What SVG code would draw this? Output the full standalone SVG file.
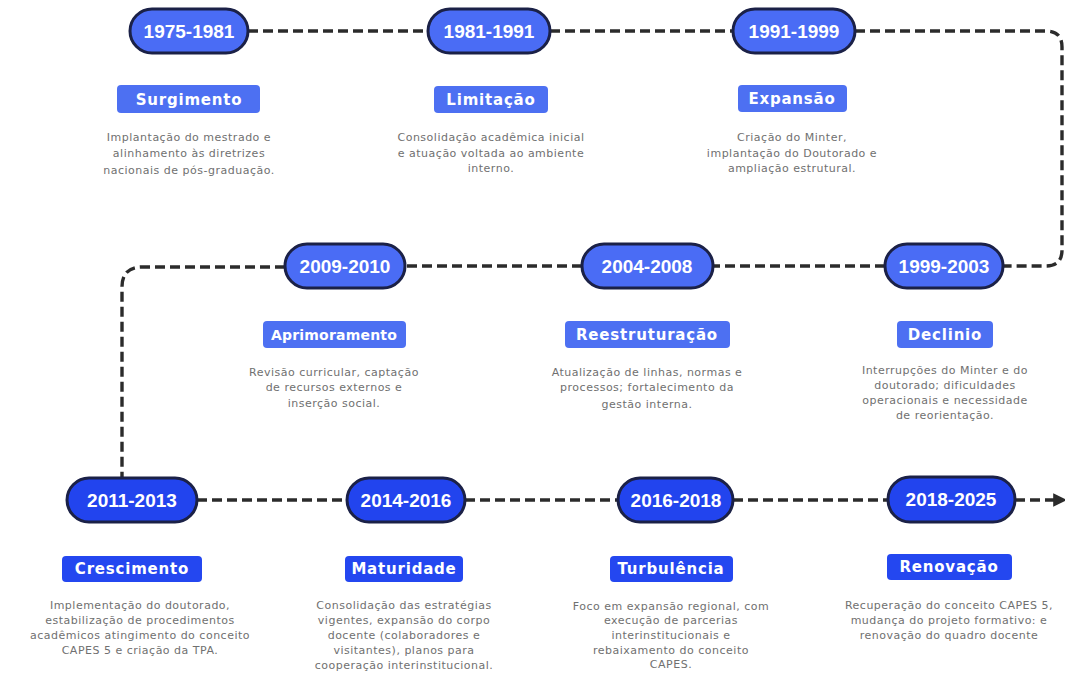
<svg xmlns="http://www.w3.org/2000/svg" width="1065" height="679" viewBox="0 0 1065 679">
<defs>
<style>
.bg{fill:#ffffff}
.conn{fill:none;stroke:#2b2b2b;stroke-width:3.4;stroke-dasharray:10 5}
.pill{fill:#4a6cf5;stroke:#1b2147;stroke-width:3}
.pill3{fill:#2244ee;stroke:#1b2147;stroke-width:3}
.year{font-family:"Liberation Sans",Arial,sans-serif;font-weight:bold;font-size:19px;fill:#ffffff;text-anchor:middle}
.lab{fill:#4d70f2}
.lab3{fill:#2447f0}
.labt{font-family:"DejaVu Sans",sans-serif;font-weight:bold;font-size:15px;letter-spacing:0.8px;fill:#ffffff;text-anchor:middle}
.desc{font-family:"DejaVu Sans",sans-serif;font-size:11px;letter-spacing:0.5px;fill:#707070;text-anchor:middle}
</style>
<marker id="arr" viewBox="0 0 10 10" refX="5" refY="5" markerWidth="4" markerHeight="4" orient="auto">
<path d="M0,0 L10,5 L0,10 z" fill="#2b2b2b"/>
</marker>
</defs>
<rect class="bg" x="0" y="0" width="1065" height="679"/>

<g id="connectors">
<path class="conn" d="M248,31 H428"/>
<path class="conn" d="M550,31 H733"/>
<path class="conn" d="M855,31 H1046 Q1062,31 1062,47 V250 Q1062,266 1046,266 H1003"/>
<path class="conn" d="M885,266 H713"/>
<path class="conn" d="M582,266 H405"/>
<path class="conn" d="M285,267 H142 Q122,267 122,287 V478"/>
<path class="conn" d="M197,500 H347"/>
<path class="conn" d="M465,500 H618"/>
<path class="conn" d="M733,500 H888"/>
<path class="conn" d="M1015,500 H1060" marker-end="url(#arr)"/>
</g>

<g id="n1975">
<rect class="pill" x="130" y="9" width="118" height="44" rx="22"/>
<text class="year" x="189" y="38">1975-1981</text>
<rect class="lab" x="117" y="85" width="143" height="28" rx="4"/>
<text class="labt" x="189" y="105">Surgimento</text>
<text class="desc" x="189" y="141">Implantação do mestrado e</text>
<text class="desc" x="189" y="157">alinhamento às diretrizes</text>
<text class="desc" x="189" y="174">nacionais de pós-graduação.</text>
</g>

<g id="n1981">
<rect class="pill" x="428" y="9" width="122" height="44" rx="22"/>
<text class="year" x="489" y="38">1981-1991</text>
<rect class="lab" x="434" y="86" width="114" height="27" rx="4"/>
<text class="labt" x="491" y="105">Limitação</text>
<text class="desc" x="491" y="141">Consolidação acadêmica inicial</text>
<text class="desc" x="491" y="157">e atuação voltada ao ambiente</text>
<text class="desc" x="491" y="172">interno.</text>
</g>

<g id="n1991">
<rect class="pill" x="733" y="9" width="122" height="44" rx="22"/>
<text class="year" x="794" y="38">1991-1999</text>
<rect class="lab" x="738" y="85" width="109" height="27" rx="4"/>
<text class="labt" x="792" y="104">Expansão</text>
<text class="desc" x="792" y="141">Criação do Minter,</text>
<text class="desc" x="792" y="157">implantação do Doutorado e</text>
<text class="desc" x="792" y="172">ampliação estrutural.</text>
</g>

<g id="n1999">
<rect class="pill" x="885" y="244" width="118" height="44" rx="22"/>
<text class="year" x="944" y="273">1999-2003</text>
<rect class="lab" x="897" y="321" width="96" height="27" rx="4"/>
<text class="labt" x="945" y="340">Declinio</text>
<text class="desc" x="945" y="374">Interrupções do Minter e do</text>
<text class="desc" x="945" y="389">doutorado; dificuldades</text>
<text class="desc" x="945" y="404">operacionais e necessidade</text>
<text class="desc" x="945" y="419">de reorientação.</text>
</g>

<g id="n2004">
<rect class="pill" x="582" y="244" width="131" height="44" rx="22"/>
<text class="year" x="647" y="273">2004-2008</text>
<rect class="lab" x="565" y="321" width="165" height="27" rx="4"/>
<text class="labt" x="647" y="340">Reestruturação</text>
<text class="desc" x="647" y="376">Atualização de linhas, normas e</text>
<text class="desc" x="647" y="391">processos; fortalecimento da</text>
<text class="desc" x="647" y="408">gestão interna.</text>
</g>

<g id="n2009">
<rect class="pill" x="285" y="244" width="120" height="44" rx="22"/>
<text class="year" x="345" y="273">2009-2010</text>
<rect class="lab" x="263" y="321" width="143" height="27" rx="4"/>
<text class="labt" x="334" y="340" style="font-size:14px;letter-spacing:0.2px">Aprimoramento</text>
<text class="desc" x="334" y="376">Revisão curricular, captação</text>
<text class="desc" x="334" y="391">de recursos externos e</text>
<text class="desc" x="334" y="407">inserção social.</text>
</g>

<g id="n2011">
<rect class="pill3" x="67" y="478" width="130" height="44" rx="22"/>
<text class="year" x="132" y="507">2011-2013</text>
<rect class="lab3" x="62" y="556" width="140" height="26" rx="4"/>
<text class="labt" x="132" y="574">Crescimento</text>
<text class="desc" x="140" y="609">Implementação do doutorado,</text>
<text class="desc" x="140" y="624">estabilização de procedimentos</text>
<text class="desc" x="140" y="639">acadêmicos atingimento do conceito</text>
<text class="desc" x="140" y="654">CAPES 5 e criação da TPA.</text>
</g>

<g id="n2014">
<rect class="pill3" x="347" y="478" width="118" height="44" rx="22"/>
<text class="year" x="406" y="507">2014-2016</text>
<rect class="lab3" x="345" y="556" width="118" height="26" rx="4"/>
<text class="labt" x="404" y="574">Maturidade</text>
<text class="desc" x="404" y="609">Consolidação das estratégias</text>
<text class="desc" x="404" y="624">vigentes, expansão do corpo</text>
<text class="desc" x="404" y="639">docente (colaboradores e</text>
<text class="desc" x="404" y="654">visitantes), planos para</text>
<text class="desc" x="404" y="669">cooperação interinstitucional.</text>
</g>

<g id="n2016">
<rect class="pill3" x="618" y="478" width="115" height="44" rx="22"/>
<text class="year" x="676" y="507">2016-2018</text>
<rect class="lab3" x="610" y="556" width="123" height="26" rx="4"/>
<text class="labt" x="671" y="574">Turbulência</text>
<text class="desc" x="671" y="610">Foco em expansão regional, com</text>
<text class="desc" x="671" y="624">execução de parcerias</text>
<text class="desc" x="671" y="639">interinstitucionais e</text>
<text class="desc" x="671" y="654">rebaixamento do conceito</text>
<text class="desc" x="671" y="668">CAPES.</text>
</g>

<g id="n2018">
<rect class="pill3" x="888" y="477" width="127" height="45" rx="22"/>
<text class="year" x="951" y="506">2018-2025</text>
<rect class="lab3" x="887" y="554" width="125" height="26" rx="4"/>
<text class="labt" x="949" y="572">Renovação</text>
<text class="desc" x="949" y="609">Recuperação do conceito CAPES 5,</text>
<text class="desc" x="949" y="624">mudança do projeto formativo: e</text>
<text class="desc" x="949" y="639">renovação do quadro docente</text>
</g>
</svg>
